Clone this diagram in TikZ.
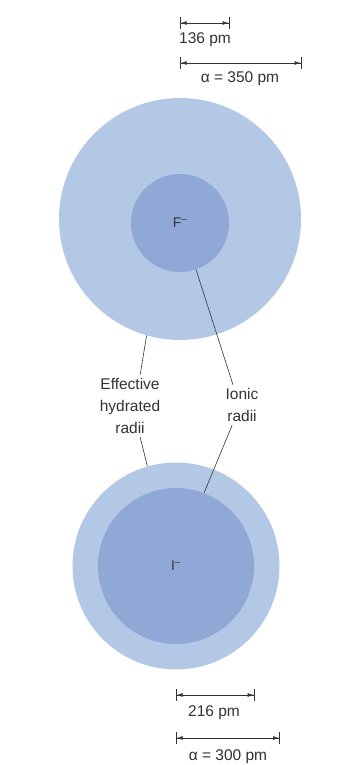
\documentclass[tikz,border=0pt]{standalone}
\usepackage{fontspec}
\setmainfont{Liberation Sans}
\usepackage{tikz}
\usetikzlibrary{arrows.meta}
\definecolor{shellblue}{RGB}{178,200,229}
\definecolor{coreblue}{RGB}{144,168,214}
\definecolor{ink}{RGB}{50,50,55}

\begin{document}
\begin{tikzpicture} [x=1pt, y=-1pt,
  shell/.style = {circle, fill=shellblue, inner sep=0pt},
  core/.style = {circle, fill=coreblue, inner sep=0pt, text=ink, font=\fontsize{14}{16}\selectfont},
  lbl/.style = {align=center, text=ink, font=\fontsize{15.5}{22}\selectfont},
  dimline/.style = {draw=ink, line width=0.7pt, {Bar[width=12pt]Latex[length=6pt,width=4pt]}-{Latex[length=6pt,width=4pt]Bar[width=12pt]}},
  leader/.style = {draw=ink, line width=0.6pt}]
\useasboundingbox (0,0) rectangle (341,765);
% fluoride ion
\node[shell, minimum size=242pt] (hydF) at (180,219) {};
\node[core, minimum size=98pt] (ionF) at (180,223) {F\textsuperscript{–}};
% iodide ion
\node[shell, minimum size=207pt] (hydI) at (176,566) {};
\node[core, minimum size=156pt] (ionI) at (176,566) {I\textsuperscript{–}};
% sizes
\draw[dimline] (ionF.center |- 0,23) -- (ionF.east |- 0,23);
\draw[dimline] (hydF.center |- 0,63) -- (hydF.east |- 0,63);
\draw[dimline] (ionI.center |- 0,695) -- (ionI.east |- 0,695);
\draw[dimline] (hydI.center |- 0,738) -- (hydI.east |- 0,738);
\node[lbl] (rionF) at (205,40) {136 pm};
\node[lbl] (rhydF) at (240,79) {α = 350 pm};
\node[lbl] (rionI) at (214,713) {216 pm};
\node[lbl] (rhydI) at (228,757) {α = 300 pm};
% labels
\node[lbl] (hydlbl) at (130,406) {Effective\\hydrated\\radii};
\node[lbl] (ionlbl) at (242,405) {Ionic\\radii};
\draw[leader] (hydF.254) -- (hydlbl.72);
\draw[leader] (hydlbl.-72) -- (hydI.106);
\draw[leader] (ionF.-71) -- (ionlbl.114);
\draw[leader] (ionlbl.-116) -- (ionI.69);
\end{tikzpicture}
\end{document}
